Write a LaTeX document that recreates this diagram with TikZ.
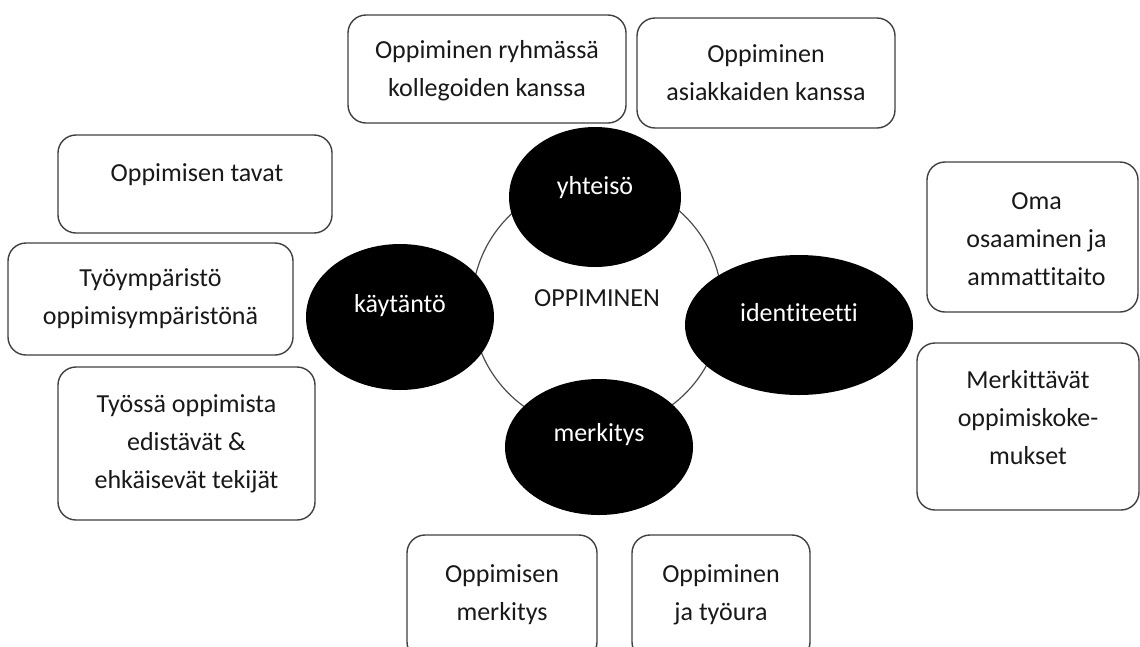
\documentclass[tikz,border=0pt]{standalone}
\usepackage{fontspec}
\setmainfont{Carlito}[Ligatures=NoCommon]
\usetikzlibrary{shapes.geometric}
\tikzset{box/.style={draw=black!75, line width=1.4pt, rounded corners=18pt, fill=white}}
\tikzset{boxtext/.style={align=center, text=black!90, font=\fontsize{26}{38}\selectfont}}

\begin{document}
\begin{tikzpicture}[x=1pt, y=-1pt, blob/.style={ellipse, fill=black, draw=none, inner sep=0pt}, blobtext/.style={text=white, font=\fontsize{26}{38}\selectfont}]
    \useasboundingbox (0,0) rectangle (1140,646);

    %Ring
    \node[circle, draw=black!70, line width=1.2pt, minimum size=250pt] (ring) at (597,305) {};

    %Blobs
    \node[blob, minimum width=172pt, minimum height=140pt, label={[blobtext, yshift=9pt]center:yhteisö}](yhteiso) at (595,197) {};
    \node[blob, minimum width=188pt, minimum height=146pt, label={[blobtext, yshift=11pt]center:käytäntö}](kaytanto) at (400,317) {};
    \node[blob, minimum width=228pt, minimum height=140pt, label={[blobtext, yshift=12pt]center:identiteetti}](identiteetti) at (799,325) {};
    \node[blob, minimum width=188pt, minimum height=136pt, label={[blobtext, yshift=12pt]center:merkitys}](merkitys) at (599,447) {};
    \node[boxtext](oppiminen) at (597,298) {OPPIMINEN};

    %Boxes
    \node[box, minimum width=278pt, minimum height=108pt, label={[boxtext, yshift=-2pt]center:Oppiminen ryhmässä\\kollegoiden kanssa}](ryhma) at (487,69) {};
    \node[box, minimum width=258pt, minimum height=110pt, label={[boxtext]center:Oppiminen\\asiakkaiden kanssa}](asiakas) at (766,73) {};
    \node[box, minimum width=274pt, minimum height=98pt, label={[boxtext, xshift=2pt, yshift=9pt]center:Oppimisen tavat}](tavat) at (195,184) {};
    \node[box, minimum width=285pt, minimum height=112pt, label={[boxtext]center:Työympäristö\\oppimisympäristönä}](ymparisto) at (150.5,299) {};
    \node[box, minimum width=257pt, minimum height=153pt, label={[boxtext]center:Työssä oppimista\\edistävät \&\\ehkäisevät tekijät}](tekijat) at (186.5,443.5) {};
    \node[box, minimum width=211pt, minimum height=150pt, label={[boxtext, xshift=4pt, yshift=-2pt]center:Oma\\osaaminen ja\\ammattitaito}](osaaminen) at (1032.5,237) {};
    \node[box, minimum width=222pt, minimum height=167pt, label={[boxtext, yshift=9pt]center:Merkittävät\\oppimiskoke-\\mukset}](kokemukset) at (1028,426.5) {};
    \node[box, minimum width=190pt, minimum height=125pt, label={[boxtext, yshift=3pt]center:Oppimisen\\merkitys}](merkitysbox) at (502,597.5) {};
    \node[box, minimum width=178pt, minimum height=125pt, label={[boxtext, yshift=3pt]center:Oppiminen\\ja työura}](tyoura) at (721,597.5) {};

\end{tikzpicture}
\end{document}
